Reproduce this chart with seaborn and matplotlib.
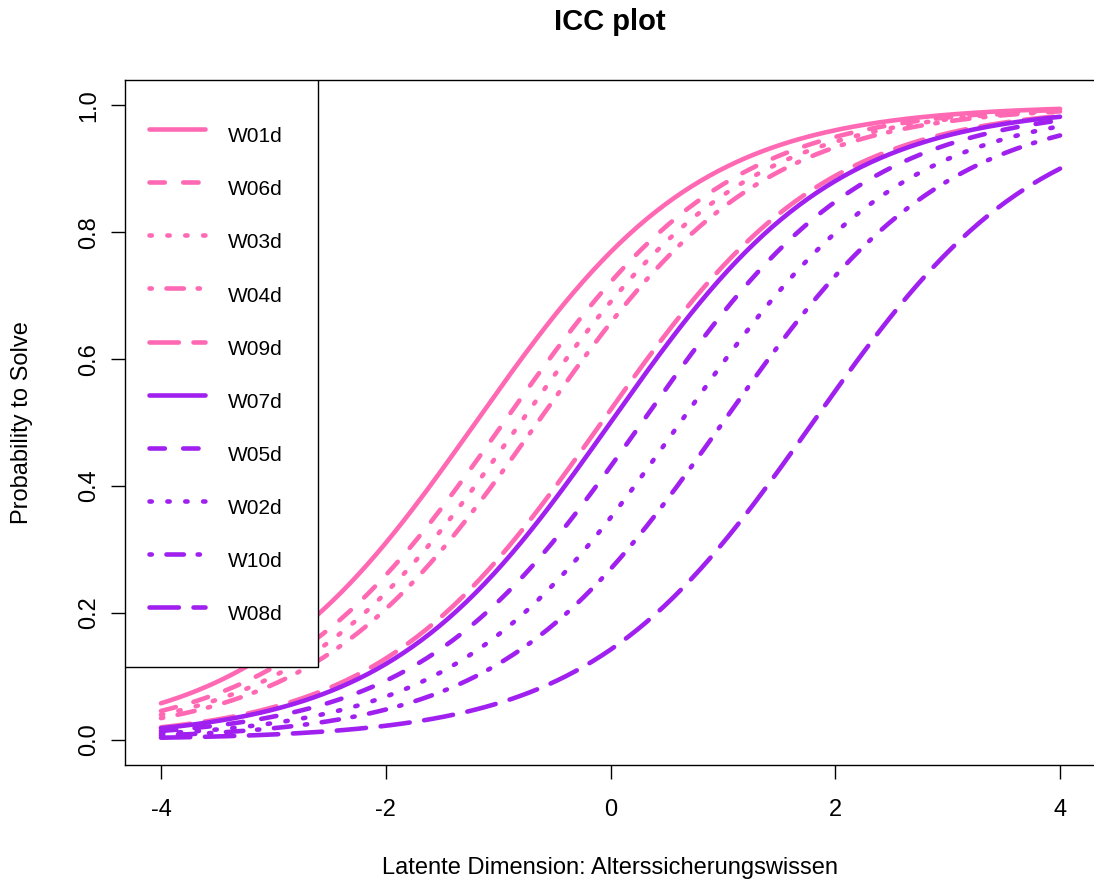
import numpy as np
import pandas as pd
import matplotlib
matplotlib.use("Agg")
import matplotlib.pyplot as plt
from matplotlib.patches import Rectangle
import seaborn as sns

items = ["W01d", "W06d", "W03d", "W04d", "W09d",
         "W07d", "W05d", "W02d", "W10d", "W08d"]
difficulty = [-1.2, -0.95, -0.8, -0.65, -0.08,
              0.0, 0.28, 0.62, 1.0, 1.8]
colors = ["#FF69B4"] * 5 + ["#A020F0"] * 5
# R line types: solid, dashed, dotted, dotdash, longdash (in linewidth units)
r_lty = [None, (3.35, 4.0), (0.5, 3.4), (0.5, 3.2, 3.8, 3.0), (6.4, 3.2)]
line_styles = r_lty * 2

theta = np.linspace(-4, 4, 201)
rows = []
for it, b in zip(items, difficulty):
    p = 1 / (1 + np.exp(-(theta - b)))
    rows.append(pd.DataFrame({"theta": theta, "p": p, "item": it}))
df = pd.concat(rows, ignore_index=True)

sns.set_theme(style="white")
plt.rcParams["font.family"] = ["Liberation Sans", "DejaVu Sans"]
plt.rcParams["axes.unicode_minus"] = False
plt.rcParams["text.color"] = "black"
plt.rcParams["axes.labelcolor"] = "black"

fig = plt.figure(figsize=(10.94, 8.83), dpi=100)
ax = fig.add_axes([125 / 1094, 1 - 765 / 883, 971 / 1094, 685 / 883])

lw = 3.3
for it, col, ls in zip(items, colors, line_styles):
    sub = df[df["item"] == it]
    kw = {}
    if ls is None:
        kw["linestyle"] = "-"
    else:
        kw["linestyle"] = (0, ls)
    sns.lineplot(data=sub, x="theta", y="p", color=col, linewidth=lw,
                 label=it, ax=ax, dash_capstyle="round",
                 solid_capstyle="round", legend=False, **kw)

ax.set_xlim(-4.32, 4.32)
ax.set_ylim(-0.04, 1.04)
ax.set_xticks([-4, -2, 0, 2, 4])
ax.set_yticks([0.0, 0.2, 0.4, 0.6, 0.8, 1.0])
ax.set_yticklabels(["0.0", "0.2", "0.4", "0.6", "0.8", "1.0"])
ax.tick_params(axis="both", direction="out", length=10, width=1.0,
               color="black", labelsize=17, labelcolor="black",
               bottom=True, left=True)
ax.tick_params(axis="x", pad=14.5)
ax.tick_params(axis="y", pad=8, labelrotation=90)
for t in ax.get_yticklabels():
    t.set_va("center")
for s in ax.spines.values():
    s.set_color("black")
    s.set_linewidth(1.0)

ax.set_xlabel("Latente Dimension: Alterssicherungswissen", fontsize=17)
ax.set_ylabel("Probability to Solve", fontsize=17)
ax.xaxis.set_label_coords(0.5, -103 / 685)
ax.xaxis.label.set_va("center")
ax.yaxis.set_label_coords(-103 / 971, 0.5)
ax.yaxis.label.set_va("center")

fig.text(610 / 1094, 1 - 22 / 883, "ICC plot", fontsize=21,
         fontweight="bold", ha="center", va="center")

# legend box like R's legend("topleft")
box = Rectangle((0, 98 / 685), 193 / 971, 1 - 98 / 685,
                transform=ax.transAxes, facecolor="white",
                edgecolor="black", linewidth=1.0, zorder=4)
ax.add_patch(box)

handles = ax.get_lines()
leg = ax.legend(handles, items, loc="upper left",
                bbox_to_anchor=(24 / 971, 1 - 36 / 685),
                borderaxespad=0, fontsize=15, handlelength=2.7,
                handleheight=2.56, labelspacing=0.64, handletextpad=1.1,
                borderpad=0, frameon=False)
leg.set_zorder(5)

fig.savefig("out.png", dpi=100)
